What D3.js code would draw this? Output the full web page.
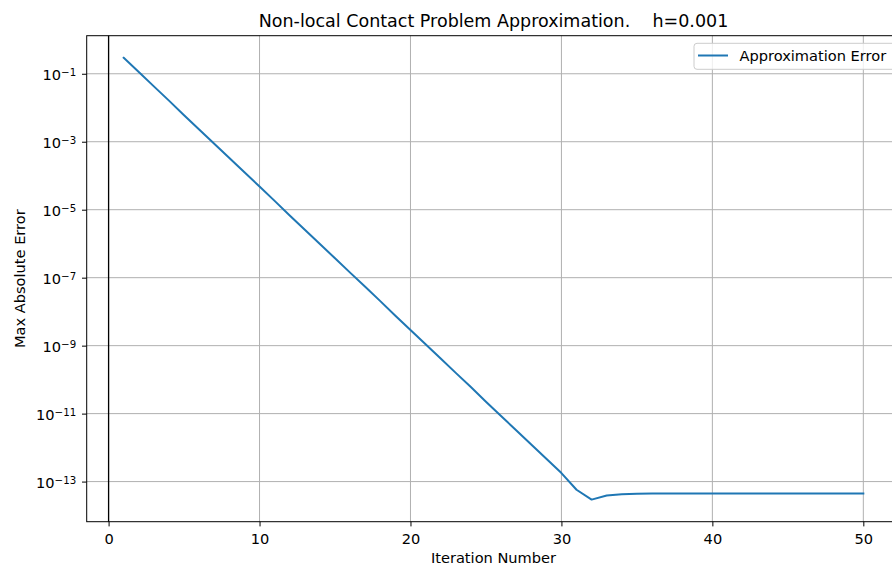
<!DOCTYPE html>
<html>
<head>
<meta charset="utf-8">
<script src="https://cdn.jsdelivr.net/npm/d3@7"></script>
<style>
  html, body { margin: 0; padding: 0; background: #fff; }
  svg { display: block; font-family: "DejaVu Sans", sans-serif; }
</style>
</head>
<body>
<svg id="chart" width="892" height="571"></svg>
<script>
// Iteration numbers and max absolute error of the approximation
const iterations = d3.range(1, 51);
const errors = [
  2.95e-1, 1.12e-1, 4.26e-2, 1.62e-2, 6.03e-3, 2.29e-3, 8.71e-4, 3.31e-4, 1.26e-4, 4.79e-5,
  1.82e-5, 6.76e-6, 2.57e-6, 9.77e-7, 3.72e-7, 1.41e-7, 5.37e-8, 2.04e-8, 7.59e-9, 2.88e-9,
  1.10e-9, 4.17e-10, 1.58e-10, 6.03e-11, 2.24e-11, 8.51e-12, 3.24e-12, 1.23e-12, 4.68e-13, 1.78e-13,
  5.75e-14, 2.95e-14, 3.89e-14, 4.27e-14, 4.40e-14, 4.45e-14, 4.47e-14, 4.47e-14, 4.47e-14, 4.47e-14,
  4.47e-14, 4.47e-14, 4.47e-14, 4.47e-14, 4.47e-14, 4.47e-14, 4.47e-14, 4.47e-14, 4.47e-14, 4.47e-14
];
const xTicks = [0, 10, 20, 30, 40, 50];
const yTickExponents = [-1, -3, -5, -7, -9, -11, -13];
const titleText = "Non-local Contact Problem Approximation.    h=0.001";
const xLabel = "Iteration Number";
const yLabel = "Max Absolute Error";
const seriesName = "Approximation Error";

const svg = d3.select("#chart");
const box = { left: 86.7, right: 900.3, top: 35.7, bottom: 521.7 };
const fs = 14.6;

// 5% padding around the data, in linear space for x and log space for y
const xExt = d3.extent(iterations);
const xPad = (xExt[1] - xExt[0]) * 0.05;
const x = d3.scaleLinear()
  .domain([xExt[0] - xPad, xExt[1] + xPad])
  .range([box.left, box.right]);

const lExt = d3.extent(errors, v => Math.log10(v));
const lPad = (lExt[1] - lExt[0]) * 0.05;
const y = d3.scaleLog()
  .domain([Math.pow(10, lExt[0] - lPad), Math.pow(10, lExt[1] + lPad)])
  .range([box.bottom, box.top]);

const yTicks = yTickExponents.map(e => Math.pow(10, e));
const gridColor = "#b0b0b0";

// Grid lines
const grid = svg.append("g");
grid.selectAll(".gx").data(xTicks).join("line")
  .attr("x1", d => x(d)).attr("x2", d => x(d))
  .attr("y1", box.top).attr("y2", box.bottom)
  .attr("stroke", gridColor).attr("stroke-width", 1);
grid.selectAll(".gy").data(yTicks).join("line")
  .attr("x1", box.left).attr("x2", box.right)
  .attr("y1", d => y(d)).attr("y2", d => y(d))
  .attr("stroke", gridColor).attr("stroke-width", 1);

// Vertical reference line at iteration 0
svg.append("line")
  .attr("x1", x(0)).attr("x2", x(0))
  .attr("y1", box.top).attr("y2", box.bottom)
  .attr("stroke", "#000").attr("stroke-width", 1.3);

// Error curve
const line = d3.line()
  .x((d, i) => x(iterations[i]))
  .y(d => y(d));
svg.append("path")
  .datum(errors)
  .attr("fill", "none")
  .attr("stroke", "#1f77b4")
  .attr("stroke-width", 2)
  .attr("stroke-linejoin", "round")
  .attr("stroke-linecap", "square")
  .attr("d", line);

// Axes frame
svg.append("rect")
  .attr("x", box.left).attr("y", box.top)
  .attr("width", box.right - box.left).attr("height", box.bottom - box.top)
  .attr("fill", "none").attr("stroke", "#000").attr("stroke-width", 1);

// X axis
const xAxis = d3.axisBottom(x).tickValues(xTicks).tickSize(4.7)
  .tickFormat(d3.format("d"));
const gx = svg.append("g").attr("transform", `translate(0,${box.bottom})`).call(xAxis);
gx.select(".domain").remove();
gx.selectAll("text").attr("font-size", fs).attr("font-family", "DejaVu Sans")
  .attr("fill", "#000").attr("y", 22.5).attr("dy", 0);
gx.selectAll("line").attr("stroke", "#000");

// Y axis with superscript exponents
const yAxis = d3.axisLeft(y).tickValues(yTicks).tickSize(4.7).tickFormat("");
const gy = svg.append("g").attr("transform", `translate(${box.left},0)`).call(yAxis);
gy.select(".domain").remove();
gy.selectAll("line").attr("stroke", "#000");
gy.selectAll(".tick").each(function(d, i) {
  const t = d3.select(this).select("text")
    .attr("font-size", fs).attr("font-family", "DejaVu Sans").attr("fill", "#000")
    .attr("dy", "0.42em").attr("x", -10.5);
  t.text(null);
  t.append("tspan").text("10");
  t.append("tspan").attr("dy", "-0.45em").attr("font-size", fs * 0.7)
    .text("\u2212" + Math.abs(yTickExponents[i]));
});

// Title
svg.append("text")
  .attr("x", (box.left + box.right) / 2).attr("y", 26.7)
  .attr("text-anchor", "middle").attr("font-size", 17.5)
  .attr("xml:space", "preserve").style("white-space", "pre")
  .text(titleText);

// Axis labels
svg.append("text")
  .attr("x", (box.left + box.right) / 2).attr("y", 563)
  .attr("text-anchor", "middle").attr("font-size", fs)
  .text(xLabel);
svg.append("text")
  .attr("transform", `translate(25,${(box.top + box.bottom) / 2}) rotate(-90)`)
  .attr("text-anchor", "middle").attr("font-size", fs)
  .text(yLabel);

// Legend
const lg = svg.append("g");
lg.append("rect")
  .attr("x", 694).attr("y", 43.3).attr("width", 210).attr("height", 26)
  .attr("rx", 3).attr("fill", "#fff").attr("fill-opacity", 0.8)
  .attr("stroke", "#cccccc").attr("stroke-width", 1);
lg.append("line")
  .attr("x1", 698).attr("x2", 728).attr("y1", 55.5).attr("y2", 55.5)
  .attr("stroke", "#1f77b4").attr("stroke-width", 2);
lg.append("text")
  .attr("x", 739.5).attr("y", 60.8).attr("font-size", fs)
  .text(seriesName);
</script>
</body>
</html>
